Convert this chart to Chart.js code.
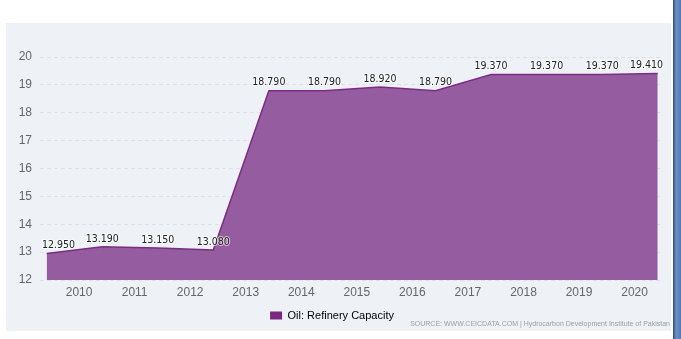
<!DOCTYPE html>
<html>
<head>
<meta charset="utf-8">
<script src="https://cdn.jsdelivr.net/npm/chart.js@4.4.0/dist/chart.umd.min.js"></script>
<style>
    html, body { margin: 0; padding: 0; background: #fff; }
    body { width: 681px; height: 339px; position: relative; overflow: hidden; }
    .panel { position: absolute; left: 6px; top: 23px; width: 665px; height: 308px; background: #eef2f6; }
    .edge { position: absolute; left: 673px; top: 0; width: 8px; height: 339px;
        background: linear-gradient(to right, #2c4a80, #6f8fc8 40%, #5577b2); }
    .source { position: absolute; right: 11px; top: 320px; font: 7px "Liberation Sans", Arial, sans-serif;
        color: #9aa0a6; white-space: nowrap; }
    canvas { position: absolute; left: 0; top: 0; }
</style>
</head>
<body>
<div class="panel"></div>
<div class="edge"></div>
<canvas id="chart" width="681" height="339"></canvas>
<div class="source">SOURCE: WWW.CEICDATA.COM | Hydrocarbon Development Institute of Pakistan</div>
<script>
// Oil: Refinery Capacity, points at December of each year 2009..2020
const pointYears = [2009, 2010, 2011, 2012, 2013, 2014, 2015, 2016, 2017, 2018, 2019, 2020];
const capacity = [12.95, 13.19, 13.15, 13.08, 18.79, 18.79, 18.92, 18.79, 19.37, 19.37, 19.37, 19.41];
// axis labels sit mid-year (7 months after the December point)
const yearLabels = ['2010', '2011', '2012', '2013', '2014', '2015', '2016', '2017', '2018', '2019', '2020'];
const seriesName = 'Oil: Refinery Capacity';

const valueLabels = {
    id: 'valueLabels',
    afterDatasetsDraw(chart) {
        const ctx = chart.ctx;
        const area = chart.chartArea;
        const meta = chart.getDatasetMeta(0);
        ctx.save();
        ctx.font = '10.5px "DejaVu Sans Condensed", Tahoma, "DejaVu Sans", sans-serif';
        ctx.textAlign = 'center';
        ctx.textBaseline = 'middle';
        meta.data.forEach((pt, i) => {
            const txt = capacity[i].toFixed(3);
            const w = ctx.measureText(txt).width;
            const x = Math.max(area.left + w / 2 + 2, Math.min(area.right - w / 2, pt.x));
            const y = pt.y - 8;
            ctx.lineWidth = 2;
            ctx.strokeStyle = 'rgba(255,255,255,0.6)';
            ctx.strokeText(txt, x, y);
            ctx.fillStyle = '#222';
            ctx.fillText(txt, x, y);
        });
        ctx.restore();
    }
};

new Chart(document.getElementById('chart'), {
    type: 'line',
    data: {
        datasets: [{
            label: seriesName,
            data: capacity.map((v, i) => ({ x: i, y: v })),
            borderColor: '#7b2d85',
            backgroundColor: '#955d9f',
            borderWidth: 1.5,
            fill: 'start',
            pointRadius: 0,
            tension: 0
        }]
    },
    options: {
        responsive: false,
        animation: false,
        layout: { padding: { left: 1, right: 18, top: 57, bottom: 8 } },
        plugins: {
            tooltip: { enabled: false },
            legend: {
                position: 'bottom',
                labels: {
                    boxWidth: 12,
                    boxHeight: 8,
                    padding: 7,
                    color: '#555',
                    font: { family: '"Liberation Sans", Arial, sans-serif', size: 11 },
                    generateLabels: () => [{
                        text: seriesName,
                        fillStyle: '#7b2880',
                        strokeStyle: '#7b2880',
                        lineWidth: 0,
                        datasetIndex: 0
                    }]
                }
            }
        },
        scales: {
            x: {
                type: 'linear',
                min: -0.12,
                max: 11.095,
                afterBuildTicks: s => { s.ticks = yearLabels.map((y, i) => ({ value: i + 7 / 12 })); },
                afterFit: s => { s.height = 23; },
                grid: { display: false, drawTicks: false },
                border: { display: false },
                ticks: {
                    padding: 5,
                    autoSkip: false,
                    maxRotation: 0,
                    color: '#666',
                    font: { family: '"Liberation Sans", Arial, sans-serif', size: 12 },
                    callback: (v, i) => yearLabels[i]
                }
            },
            y: {
                min: 12,
                max: 20,
                afterFit: s => { s.width = 39; },
                grid: { color: '#dde2e8', drawTicks: false },
                border: { display: false, dash: [4, 3] },
                ticks: {
                    stepSize: 1,
                    padding: 8,
                    color: '#666',
                    font: { family: '"Liberation Sans", Arial, sans-serif', size: 12 }
                }
            }
        }
    },
    plugins: [valueLabels]
});
</script>
</body>
</html>
